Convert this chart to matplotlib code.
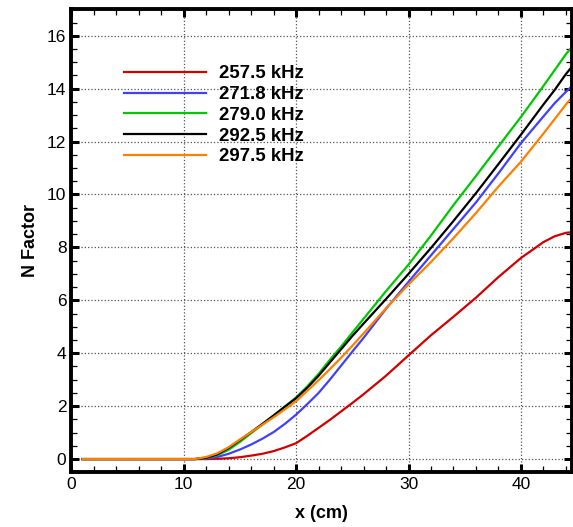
import matplotlib
matplotlib.use("Agg")
import matplotlib.pyplot as plt
from matplotlib.ticker import MultipleLocator

plt.rcParams['font.family'] = ['Liberation Sans', 'DejaVu Sans']

# x positions (cm) where the curves were read
x = [1, 10, 11, 12, 13, 14, 15, 16, 17, 18, 19, 20, 21, 22, 23, 24, 25, 26,
     28, 30, 32, 34, 36, 38, 40, 42, 43, 44, 44.4]

n_2575 = [0, 0, 0, 0, 0.01, 0.03, 0.07, 0.13, 0.2, 0.3, 0.44, 0.6, 0.88, 1.18,
          1.48, 1.8, 2.12, 2.45, 3.15, 3.92, 4.68, 5.38, 6.1, 6.88, 7.6, 8.2,
          8.42, 8.55, 8.57]
n_2718 = [0, 0, 0, 0.02, 0.08, 0.2, 0.36, 0.55, 0.77, 1.02, 1.33, 1.68, 2.08,
          2.5, 3.0, 3.53, 4.06, 4.58, 5.68, 6.7, 7.7, 8.7, 9.7, 10.8, 11.94,
          12.95, 13.45, 13.88, 14.04]
n_2790 = [0, 0, 0, 0.04, 0.15, 0.35, 0.65, 0.98, 1.3, 1.63, 1.98, 2.33, 2.75,
          3.22, 3.75, 4.25, 4.78, 5.3, 6.35, 7.35, 8.45, 9.6, 10.7, 11.82,
          12.93, 14.1, 14.7, 15.3, 15.5]
n_2925 = [0, 0, 0, 0.05, 0.18, 0.42, 0.72, 1.02, 1.33, 1.65, 1.98, 2.3, 2.7,
          3.15, 3.65, 4.15, 4.65, 5.12, 6.05, 7.0, 7.98, 9.0, 10.05, 11.15,
          12.26, 13.4, 13.95, 14.55, 14.76]
n_2975 = [0, 0, 0, 0.08, 0.22, 0.45, 0.74, 1.02, 1.3, 1.58, 1.88, 2.19, 2.58,
          2.98, 3.4, 3.83, 4.28, 4.75, 5.7, 6.6, 7.45, 8.35, 9.3, 10.3, 11.24,
          12.3, 12.85, 13.4, 13.6]

labels = ["257.5 kHz", "271.8 kHz", "279.0 kHz", "292.5 kHz", "297.5 kHz"]
colors = ["#d00000", "#4040ff", "#00c800", "#000000", "#ff8000"]
series = [n_2575, n_2718, n_2790, n_2925, n_2975]

fig = plt.figure(figsize=(5.73, 5.27), dpi=100)
ax = fig.add_axes([0.1244, 0.1038, 0.873, 0.8786])

for y, lab, c in zip(series, labels, colors):
    ax.plot(x, y, color=c, lw=1.6, label=lab)

ax.set_xlim(0, 44.5)
ax.set_ylim(-0.5, 17)
ax.xaxis.set_major_locator(MultipleLocator(10))
ax.xaxis.set_minor_locator(MultipleLocator(2))
ax.yaxis.set_major_locator(MultipleLocator(2))
ax.yaxis.set_minor_locator(MultipleLocator(0.5))

ax.grid(True, which='major', linestyle=':', color='#555555', lw=0.9)
ax.set_axisbelow(True)

ax.tick_params(which='both', direction='in', top=True, right=True, labelsize=12.5)
ax.tick_params(which='major', length=6, width=2.2)
ax.tick_params(which='minor', length=4, width=0.9)
for s in ax.spines.values():
    s.set_linewidth(2.8)

ax.set_xlabel("x (cm)", fontsize=13, fontweight='bold', labelpad=9)
ax.set_ylabel("N Factor", fontsize=13, fontweight='bold', labelpad=6)

leg = ax.legend(loc='upper left', bbox_to_anchor=(0.09, 0.895), frameon=False,
                handlelength=4.4, handletextpad=0.7, labelspacing=0.2,
                borderaxespad=0, prop={'size': 13.4, 'weight': 'bold'})

fig.savefig("out.png", dpi=100)
